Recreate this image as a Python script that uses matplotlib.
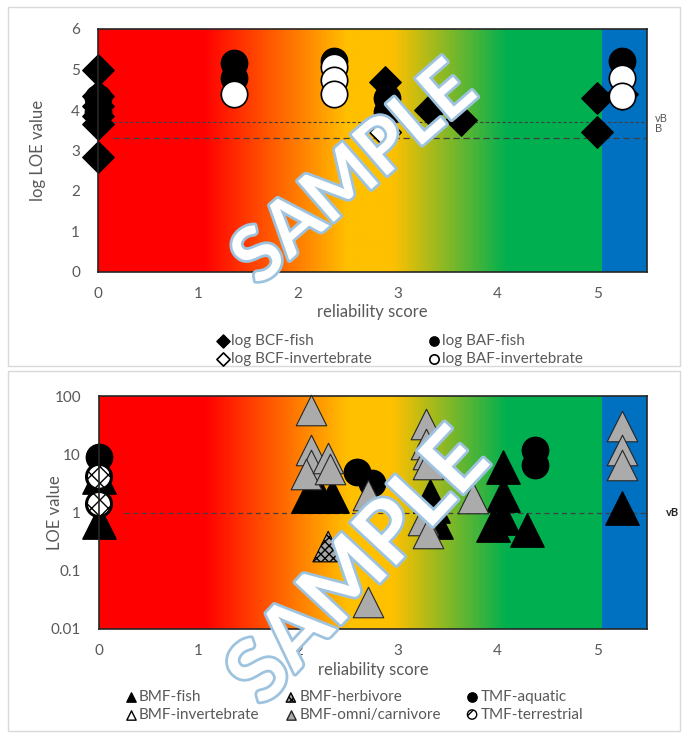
import numpy as np
import matplotlib
matplotlib.use("Agg")
import matplotlib.pyplot as plt
import matplotlib.patheffects as pe
from matplotlib.colors import LinearSegmentedColormap
from matplotlib.patches import Rectangle
from matplotlib.ticker import FixedLocator, FixedFormatter, NullLocator

plt.rcParams['font.family'] = ['Lato', 'DejaVu Sans']
TXT = '#595959'

# ---- upper panel: log BCF / log BAF against reliability score
bcf_fish_x = [0, 0, 0, 0, 0, 0, 2.88, 3.33, 3.64, 5.0, 5.0, 5.25]
bcf_fish_y = [5.0, 4.35, 4.1, 3.85, 3.65, 2.85, 4.7, 4.0, 3.75, 4.3, 3.45, 4.4]
baf_fish_x = [0, 0, 1.36, 1.36, 2.36, 2.9, 2.9, 5.25]
baf_fish_y = [4.3, 3.95, 5.15, 4.8, 5.2, 4.3, 3.95, 5.2]
bcf_inv_x = [2.88]
bcf_inv_y = [3.45]
baf_inv_x = [1.36, 2.36, 2.36, 2.36, 5.25, 5.25]
baf_inv_y = [4.4, 5.05, 4.75, 4.4, 4.8, 4.35]
log_vB, log_B = 3.7, 3.3

# ---- lower panel: BMF / TMF against reliability score
tmf_aq_x = [0, 2.59, 2.74, 4.38, 4.38]
tmf_aq_y = [8.9, 5.0, 3.2, 12, 6.5]
bmf_fish_x = [0, 0, 2.1, 2.22, 2.34, 3.32, 3.35, 3.38, 3.95, 4.05, 4.05, 4.05, 4.3, 5.25]
bmf_fish_y = [4.0, 0.7, 1.9, 1.9, 1.9, 1.9, 1.3, 0.7, 0.6, 6.0, 2.0, 0.8, 0.5, 1.2]
bmf_herb_x = [2.3]
bmf_herb_y = [0.26]
bmf_inv_x = []
bmf_inv_y = []
bmf_omni_x = [2.13, 2.13, 2.13, 2.08, 2.3, 2.32, 2.7, 2.7, 3.28, 3.28, 3.3, 3.3,
              3.25, 3.3, 3.75, 5.25, 5.25, 5.25]
bmf_omni_y = [57, 12, 6.5, 4.5, 8.5, 5.5, 2.0, 0.029, 33, 15, 10, 6.7,
              0.75, 0.45, 1.8, 30, 12, 6.5]
tmf_ter_x = [0, 0]
tmf_ter_y = [4.1, 1.4]
vB_factor = 1

band_edge = 5.05
x_max = 5.5
stops = [(0, '#FF0000'), (1.05, '#FF0000'), (2.5, '#FFC000'), (2.95, '#FFC000'),
         (4.1, '#00B050'), (5.05, '#00B050')]
cmap = LinearSegmentedColormap.from_list('reliab', [(p / band_edge, c) for p, c in stops])


def paint_background(ax, y0, y1):
    grad = np.linspace(0, 1, 600).reshape(1, -1)
    ax.imshow(grad, cmap=cmap, aspect='auto', extent=(0, band_edge, y0, y1),
              interpolation='bilinear', zorder=0)
    ax.axvspan(band_edge, x_max, color='#0070C0', lw=0, zorder=0)


def style_axes(ax, xlab_y):
    for s in ax.spines.values():
        s.set_color('#262626')
        s.set_linewidth(1.2)
        s.set_zorder(5)
    ax.tick_params(length=0, labelsize=11, colors=TXT)
    ax.tick_params(axis='y', pad=13)
    ax.tick_params(axis='x', pad=11)
    ax.set_xticks(range(6))
    ax.set_xlabel('reliability score', fontsize=12, color=TXT)
    ax.xaxis.set_label_coords(0.5, xlab_y)
    ax.xaxis.label.set_va('center')


def watermark(ax, x, y, angle, size):
    ax.text(x, y, 'SAMPLE', transform=ax.transAxes, rotation=angle, fontsize=size,
            fontweight='bold', color='white', ha='center', va='center', zorder=10,
            rotation_mode='anchor',
            path_effects=[pe.Stroke(linewidth=4, foreground='#9EC3DF'), pe.Normal()])


fig = plt.figure(figsize=(6.86, 7.35), dpi=100)
W, H = 686, 735
for top, bot in [(7, 366), (371, 731)]:
    fig.patches.append(Rectangle((8 / W, 1 - bot / H), 672 / W, (bot - top) / H,
                                 transform=fig.transFigure, fc='white', ec='#D9D9D9',
                                 lw=1, zorder=-5))

# upper panel
ax1 = fig.add_axes([98 / W, 1 - 272 / H, 549 / W, 243 / H])
paint_background(ax1, 0, 6)
ax1.hlines(log_vB, 0.15, x_max, colors='#404040', linestyles=(0, (3, 2)), lw=0.8, zorder=2)
ax1.hlines(log_B, 0.15, x_max, colors='#404040', linestyles=(0, (5, 3)), lw=0.9, zorder=2)
ax1.text(5.58, log_vB + 0.1, 'vB', fontsize=8, color=TXT, va='center', clip_on=False)
ax1.text(5.58, log_B + 0.25, 'B', fontsize=8, color=TXT, va='center', clip_on=False)
ax1.scatter(bcf_fish_x, bcf_fish_y, marker='D', s=16 ** 2, c='k', edgecolors='k', zorder=3,
            clip_on=False, label='log BCF-fish')
ax1.scatter(baf_fish_x, baf_fish_y, marker='o', s=19 ** 2, c='k', edgecolors='k', zorder=3,
            clip_on=False, label='log BAF-fish')
ax1.scatter(bcf_inv_x, bcf_inv_y, marker='D', s=16 ** 2, c='white', edgecolors='k', lw=1.2,
            zorder=3, clip_on=False, label='log BCF-invertebrate')
ax1.scatter(baf_inv_x, baf_inv_y, marker='o', s=19 ** 2, c='white', edgecolors='k', lw=1.2,
            zorder=3, clip_on=False, label='log BAF-invertebrate')
ax1.set_xlim(0, x_max)
ax1.set_ylim(0, 6)
ax1.set_yticks(range(7))
style_axes(ax1, -40 / 243)
ax1.set_ylabel('log LOE value', fontsize=12, color=TXT)
ax1.yaxis.set_label_coords(-52 / 549, 0.5)
h1, l1 = ax1.get_legend_handles_labels()
order = [0, 2, 1, 3]
leg1 = fig.legend([h1[i] for i in order], [l1[i] for i in order], loc='center left',
                  bbox_to_anchor=(202 / W, 1 - 350 / H), ncols=2, frameon=False,
                  fontsize=11, labelcolor=TXT, handletextpad=0.1, columnspacing=3.6,
                  labelspacing=0.2, handlelength=0.9)
for h in leg1.legend_handles:
    h.set_sizes([45])
watermark(ax1, 0.468, 0.40, 41, 54)

# lower panel
ax2 = fig.add_axes([99 / W, 1 - 629 / H, 548 / W, 233 / H])
ax2.set_yscale('log')
paint_background(ax2, 0.01, 100)
ax2.hlines(vB_factor, 0.25, x_max, colors='#404040', linestyles=(0, (4, 3)), lw=0.9, zorder=2)
ax2.text(5.69, vB_factor, 'vB', fontsize=8, color='#262626', fontweight='bold',
         va='center', clip_on=False)
ax2.scatter(tmf_aq_x, tmf_aq_y, marker='o', s=19 ** 2, c='k', zorder=3, clip_on=False,
            label='TMF-aquatic')
ax2.scatter(bmf_fish_x, bmf_fish_y, marker='^', s=24 ** 2, c='k', edgecolors='k', zorder=3,
            clip_on=False, label='BMF-fish')
ax2.scatter(bmf_herb_x, bmf_herb_y, marker='^', s=22 ** 2, c='#A6A6A6', edgecolors='k',
            hatch='xxxx', lw=0.8, zorder=3, clip_on=False, label='BMF-herbivore')
ax2.scatter(bmf_inv_x, bmf_inv_y, marker='^', s=22 ** 2, c='white', edgecolors='k',
            lw=0.8, zorder=3, clip_on=False, label='BMF-invertebrate')
ax2.scatter(bmf_omni_x, bmf_omni_y, marker='^', s=22 ** 2, c='#ABABAB', edgecolors='#262626',
            lw=0.8, zorder=3, clip_on=False, label='BMF-omni/carnivore')
ax2.scatter(tmf_ter_x, tmf_ter_y, marker='o', s=18 ** 2, c='white', edgecolors='k',
            hatch='xx', lw=2.2, zorder=4, clip_on=False, label='TMF-terrestrial')
ax2.set_xlim(0, x_max)
ax2.set_ylim(0.01, 100)
ax2.yaxis.set_major_locator(FixedLocator([0.01, 0.1, 1, 10, 100]))
ax2.yaxis.set_major_formatter(FixedFormatter(['0.01', '0.1', '1', '10', '100']))
ax2.yaxis.set_minor_locator(NullLocator())
style_axes(ax2, -41 / 233)
ax2.set_ylabel('LOE value', fontsize=12, color=TXT)
ax2.yaxis.set_label_coords(-36 / 548, 0.5)
h2, l2 = ax2.get_legend_handles_labels()
idx = {lab: i for i, lab in enumerate(l2)}
names = ['BMF-fish', 'BMF-invertebrate', 'BMF-herbivore', 'BMF-omni/carnivore',
         'TMF-aquatic', 'TMF-terrestrial']
leg2 = fig.legend([h2[idx[n]] for n in names], names, loc='center left',
                  bbox_to_anchor=(110 / W, 1 - 706 / H), ncols=3, frameon=False,
                  fontsize=11, labelcolor=TXT, handletextpad=0.1, columnspacing=1.6,
                  labelspacing=0.2, handlelength=0.9)
for h in leg2.legend_handles:
    h.set_sizes([45])
    h.set_linewidth(1.0)
watermark(ax2, 0.476, 0.26, 47, 62)

fig.savefig('out.png', dpi=100)
